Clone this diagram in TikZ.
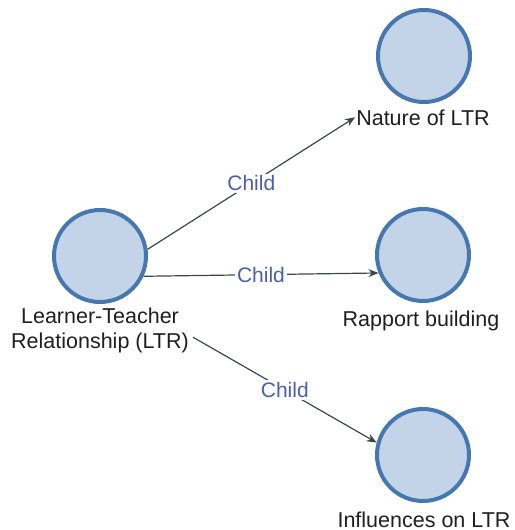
\documentclass[tikz,border=0pt]{standalone}
\usepackage{fontspec}
\setmainfont{Liberation Sans}
\usepackage{tikz}
\usetikzlibrary{arrows.meta,positioning}

\definecolor{nodefill}{RGB}{196,212,232}
\definecolor{nodeedge}{RGB}{70,120,175}
\definecolor{edgegray}{RGB}{60,70,70}
\definecolor{childblue}{RGB}{75,95,175}

\begin{document}
\begin{tikzpicture}[x=1pt, y=-1pt,
    topic/.style={circle, draw=nodeedge, line width=4pt, fill=nodefill, minimum size=92pt, inner sep=0pt},
    lbl/.style={font=\fontsize{21.5}{25}\selectfont, text=black!88, inner sep=1pt, align=center},
    rel/.style={font=\fontsize{21}{25}\selectfont, text=childblue, fill=white, inner sep=2pt},
    arr/.style={-{Stealth[length=10pt, width=8pt]}, draw=edgegray, line width=1.2pt}
]
\useasboundingbox (0,0) rectangle (514,530);

\node[topic] (root) at (100,256) {};
\node[lbl, anchor=north, inner xsep=4pt, inner ysep=0pt] (rootlbl) at (100,308) {Learner-Teacher\\Relationship (LTR)};
\node[topic] (nat) at (424,56) {};
\node[lbl, anchor=base] (natlbl) at (423,125) {Nature of LTR};
\node[topic] (rap) at (423,255) {};
\node[lbl, anchor=base] (raplbl) at (421,326) {Rapport building};
\node[topic] (inf) at (423,455) {};
\node[lbl, anchor=base] (inflbl) at (424,527) {Influences on LTR};

\draw[arr] (root.8) -- node[rel] {Child} (natlbl.west);
\draw[arr] (root.-25) -- node[rel] {Child} (rap.202);
\draw[arr] (rootlbl.-4) -- node[rel] {Child} (inf.165);
\end{tikzpicture}
\end{document}
